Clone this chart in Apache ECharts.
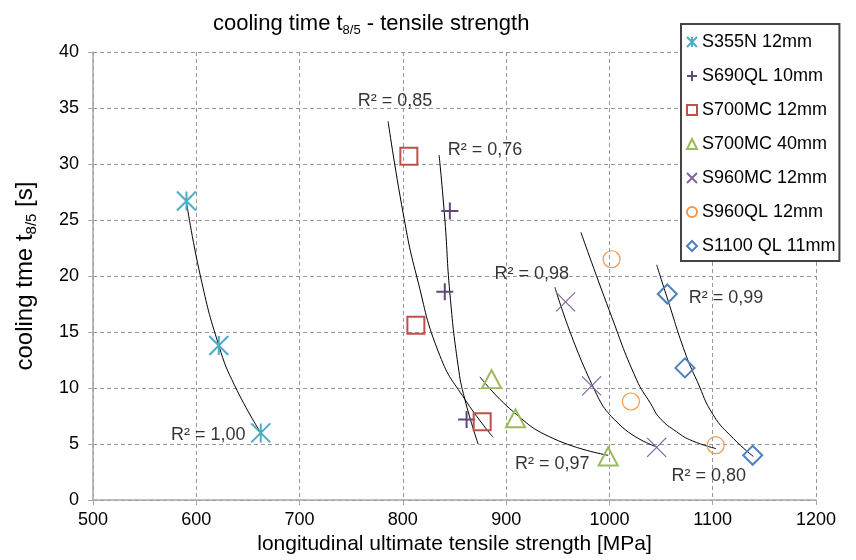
<!DOCTYPE html>
<html>
<head>
<meta charset="utf-8">
<script src="https://cdn.jsdelivr.net/npm/echarts@6/dist/echarts.min.js"></script>
<style>
html,body{margin:0;padding:0;background:#fff;}
#chart{width:856px;height:560px;}
</style>
</head>
<body>
<div id="chart"></div>
<script>
// ---- data ----
const seriesNames = ['S355N 12mm','S690QL 10mm','S700MC 12mm','S700MC 40mm','S960MC 12mm','S960QL 12mm','S1100 QL 11mm'];

const s355n    = [[590.5,26.7],[621.8,13.8],[662.4,6.0]];
const s690ql   = [[845.5,25.8],[840.6,18.6],[861.7,7.2]];
const s700mc12 = [[805.8,30.7],[812.6,15.6],[876.8,7.0]];
const s700mc40 = [[885.9,10.8],[909.1,7.3],[998.8,3.9]];
const s960mc   = [[957.6,17.7],[982.7,10.2],[1045.7,4.7]];
const s960ql   = [[1002.1,21.5],[1020.8,8.8],[1102.9,4.9]];
const s1100ql  = [[1056.0,18.4],[1073.1,11.8],[1138.7,4.0]];

// trend curves
const trend355    = [[590.5,26.6],[604.0,20.0],[621.8,13.8],[637.3,10.2],[662.4,6.0]];
const trend690    = [[835.1,30.8],[840.7,25.0],[845.5,18.5],[853.5,12.0],[860.0,9.0],[872.9,5.0]];
const trend700_12 = [[785.7,33.8],[800.3,25.6],[813.3,20.0],[835.8,12.9],[860.0,9.0],[887.4,5.6]];
const trend700_40 = [[874.6,11.0],[906.8,7.9],[945.6,5.5],[998.8,4.0]];
const trend960mc  = [[947.2,19.0],[982.7,10.4],[1010.2,6.7],[1045.7,4.75]];
const trend960ql  = [[972.4,23.9],[1000.0,16.9],[1026.0,10.8],[1040.0,8.6],[1049.0,7.3],[1065.0,6.1],[1080.0,5.3],[1103.2,4.6]];
const trend1100   = [[1045.7,21.0],[1055.4,18.2],[1073.1,13.2],[1085.0,10.6],[1100.5,7.6],[1120.0,5.5],[1139.3,3.9]];

const r2Texts   = ['R² = 1,00','R² = 0,85','R² = 0,76','R² = 0,98','R² = 0,97','R² = 0,80','R² = 0,99'];
const r2Anchors = [[575.9,5.8],[756.7,35.6],[843.9,31.2],[889.1,20.1],[909.1,3.2],[1060.5,2.1],[1077.3,18.0]];

const xTicks = {min:500, max:1200, step:100};
const yTicks = {min:0, max:40, step:5};

// ---- styling ----
const FONT = '"Liberation Sans", Arial, sans-serif';
const pointSets = [s355n, s690ql, s700mc12, s700mc40, s960mc, s960ql, s1100ql];
const trendSets = [trend355, trend690, trend700_12, trend700_40, trend960mc, trend960ql, trend1100];
const markerStyles = [
  {symbol:'path://M0,0L20,20M20,0L0,20M10,0L10,20', size:19, color:'#4BACC6', bw:2},
  {symbol:'path://M10,0L10,20M0,10L20,10', size:17, color:'#5F497A', bw:2},
  {symbol:'rect', size:17, color:'#C0504D', bw:2},
  {symbol:'triangle', size:[19,18], color:'#9BBB59', bw:2},
  {symbol:'path://M0,0L20,20M20,0L0,20', size:19, color:'#8064A2', bw:1.2},
  {symbol:'circle', size:17, color:'#F79646', bw:1.2},
  {symbol:'diamond', size:[19,19], color:'#4F81BD', bw:2}
];

const series = [];
trendSets.forEach(function(t){
  series.push({
    type:'line', data:t, smooth:0.5, symbol:'none',
    lineStyle:{color:'#000', width:1}, silent:true, z:3
  });
});
pointSets.forEach(function(p,i){
  const m = markerStyles[i];
  series.push({
    name: seriesNames[i], type:'scatter', data:p,
    symbol:m.symbol, symbolSize:m.size,
    itemStyle:{color:'rgba(0,0,0,0)', borderColor:m.color, borderWidth:m.bw, opacity:1},
    emphasis:{disabled:true}, z:4
  });
});
series.push({
  type:'scatter', silent:true, z:5,
  data: r2Anchors.map(function(a,i){ return {value:a, label:{formatter:r2Texts[i]}}; }),
  symbol:'circle', symbolSize:1, itemStyle:{color:'rgba(0,0,0,0)'},
  label:{show:true, position:[0,0], align:'left', verticalAlign:'middle',
         color:'#000', fontSize:18, fontFamily:FONT}
});

const chart = echarts.init(document.getElementById('chart'), null, {renderer:'canvas'});
chart.setOption({
  animation:false,
  backgroundColor:'#fff',
  title:{
    text:'cooling time t{sub|8/5} - tensile strength',
    left:208, top:6,
    textStyle:{fontFamily:FONT, fontSize:22, fontWeight:'normal', color:'#000', lineHeight:26,
      rich:{sub:{fontFamily:FONT, fontSize:13, lineHeight:12, verticalAlign:'bottom', color:'#000'}}}
  },
  legend:{
    data:seriesNames, orient:'vertical', left:681, top:24,
    padding:[8,4,5,5], itemGap:14, itemWidth:10, itemHeight:10,
    backgroundColor:'#fff', borderColor:'#444', borderWidth:2,
    textStyle:{fontFamily:FONT, fontSize:18, color:'#000', lineHeight:20},
    selectedMode:false
  },
  grid:{left:93, right:40, top:52, bottom:58, containLabel:false},
  xAxis:{
    type:'value', min:xTicks.min, max:xTicks.max, interval:xTicks.step,
    name:'longitudinal ultimate tensile strength [MPa]', nameLocation:'middle', nameGap:32,
    nameTextStyle:{fontFamily:FONT, fontSize:21, color:'#000'},
    axisLine:{show:true, lineStyle:{color:'#a6a6a6', width:1.5}},
    axisTick:{show:true, length:5, lineStyle:{color:'#a6a6a6'}},
    axisLabel:{fontFamily:FONT, fontSize:18, color:'#000', margin:11,
      formatter:function(v){ return String(v); }},
    splitLine:{show:true, lineStyle:{color:'#999', type:[4,3], width:1}}
  },
  yAxis:{
    type:'value', min:yTicks.min, max:yTicks.max, interval:yTicks.step,
    name:'cooling tme t{sub|8/5} [s]', nameLocation:'middle', nameGap:54,
    nameTextStyle:{fontFamily:FONT, fontSize:24, color:'#000', lineHeight:28,
      rich:{sub:{fontFamily:FONT, fontSize:15, lineHeight:14, verticalAlign:'bottom', color:'#000'}}},
    axisLine:{show:true, lineStyle:{color:'#a6a6a6', width:1.5}},
    axisTick:{show:true, length:5, lineStyle:{color:'#a6a6a6'}},
    axisLabel:{fontFamily:FONT, fontSize:18, color:'#000', margin:14,
      formatter:function(v){ return String(v); }},
    splitLine:{show:true, lineStyle:{color:'#999', type:[4,3], width:1}}
  },
  series:series
});
</script>
</body>
</html>
